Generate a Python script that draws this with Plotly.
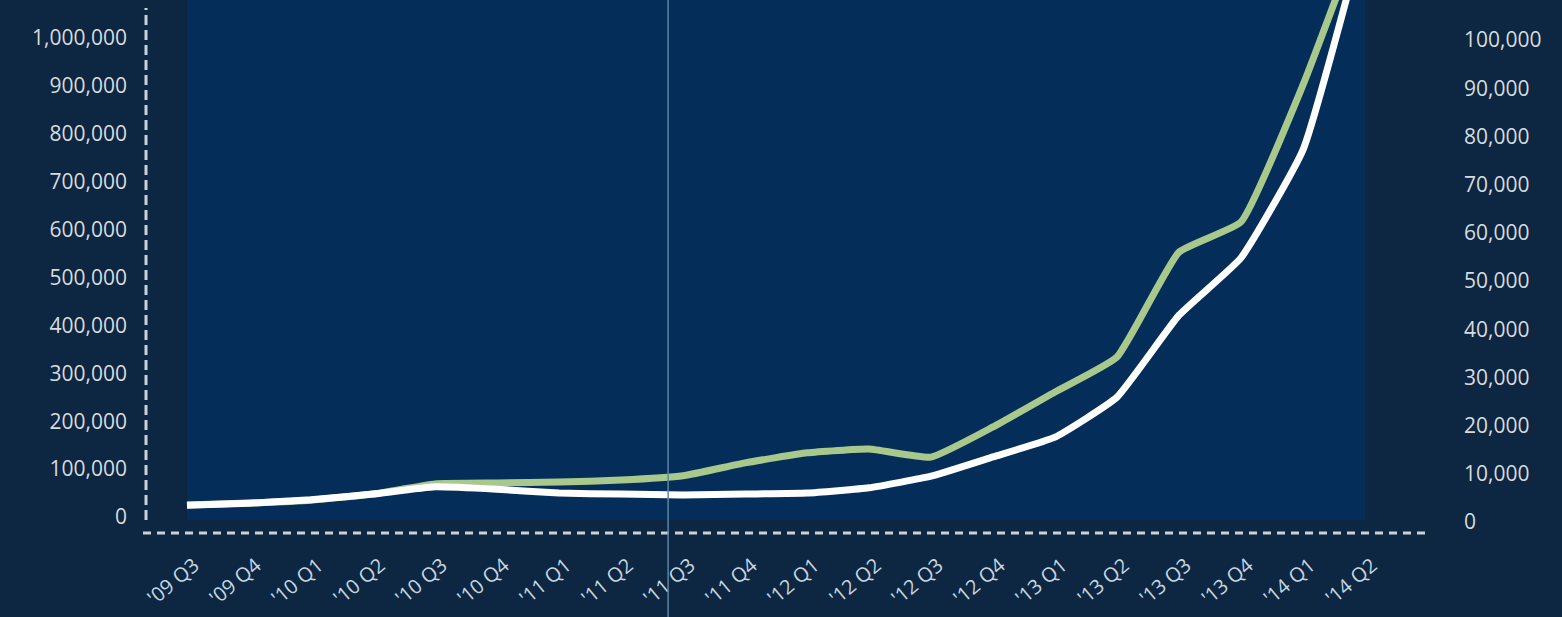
import plotly.graph_objects as go

categories = ["'09 Q3", "'09 Q4", "'10 Q1", "'10 Q2", "'10 Q3", "'10 Q4",
              "'11 Q1", "'11 Q2", "'11 Q3", "'11 Q4", "'12 Q1", "'12 Q2",
              "'12 Q3", "'12 Q4", "'13 Q1", "'13 Q2", "'13 Q3", "'13 Q4",
              "'14 Q1", "'14 Q2"]

# green series, left axis
green_values = [25000, 29000, 35000, 48000, 69000, 71000, 73000, 77000, 86000, 113000,
                134000, 142000, 125000, 188000, 261000, 334000, 553000, 616000, 902000, 1246000]

# white series, right axis
white_values = [3500, 3900, 4600, 5800, 7300, 6800, 6000, 5800, 5600, 5800,
                6000, 7100, 9500, 13500, 17600, 25900, 42900, 54800, 77200, 123000]

left_ticks = list(range(0, 1000001, 100000))
right_ticks = list(range(0, 100001, 10000))
marker_position = 7.76  # thin vertical reference line (category units)

idx = list(range(len(categories)))

PAPER = "#0d2641"
PLOT = "#042e59"
DASH = "#c9d1d8"
TXT = "#d6dcdd"
XTXT = "#c3d6e0"
FONT = "Open Sans"

fig = go.Figure()
fig.add_trace(go.Scatter(x=idx, y=green_values, yaxis="y", mode="lines",
                         line=dict(color="#a9c98c", width=7, shape="spline", smoothing=0.4),
                         showlegend=False, hoverinfo="skip"))
fig.add_trace(go.Scatter(x=idx, y=white_values, yaxis="y2", mode="lines",
                         line=dict(color="#ffffff", width=7, shape="spline", smoothing=0.4),
                         showlegend=False, hoverinfo="skip"))

# bright plot panel
fig.add_shape(type="rect", xref="x", yref="y", x0=0, x1=len(categories) - 1,
              y0=-6300, y1=1079300, fillcolor=PLOT, line_width=0, layer="below")
# dashed axes
fig.add_shape(type="line", xref="paper", yref="paper", x0=0, x1=0,
              y0=(533 - 520) / 533, y1=(533 - 8) / 533,
              line=dict(color=DASH, width=3, dash="10px,5px"))
fig.add_shape(type="line", xref="paper", yref="paper", x0=-3 / 1281, x1=1,
              y0=0, y1=0, line=dict(color=DASH, width=3, dash="8px,6px"))
# thin vertical reference line
fig.add_shape(type="line", xref="x", yref="paper", x0=marker_position, x1=marker_position,
              y0=-84 / 533, y1=1, line=dict(color="#5d84a6", width=1.5))

fig.update_layout(
    width=1562, height=617,
    margin=dict(l=146, r=135, t=0, b=84),
    paper_bgcolor=PAPER, plot_bgcolor=PAPER,
    font=dict(family=FONT, color=TXT, size=21),
    xaxis=dict(range=[-0.661, 20.0], tickmode="array", tickvals=idx, ticktext=categories,
               tickangle=-40, showgrid=False, zeroline=False, showline=False,
               ticks="", ticklabelstandoff=16, ticklabelshift=7,
               tickfont=dict(size=20, color=XTXT)),
    yaxis=dict(range=[-33400, 1079300], tickmode="array", tickvals=left_ticks,
               tickformat=",", showgrid=False, zeroline=False, showline=False,
               ticks="", ticklabelstandoff=18, tickfont=dict(size=21, color=TXT)),
    yaxis2=dict(range=[-2282, 108300], overlaying="y", side="right", tickmode="array",
                tickvals=right_ticks, tickformat=",", showgrid=False, zeroline=False,
                showline=False, ticks="", ticklabelstandoff=36,
                tickfont=dict(size=21, color=TXT)),
)

fig.write_html("out.html")
